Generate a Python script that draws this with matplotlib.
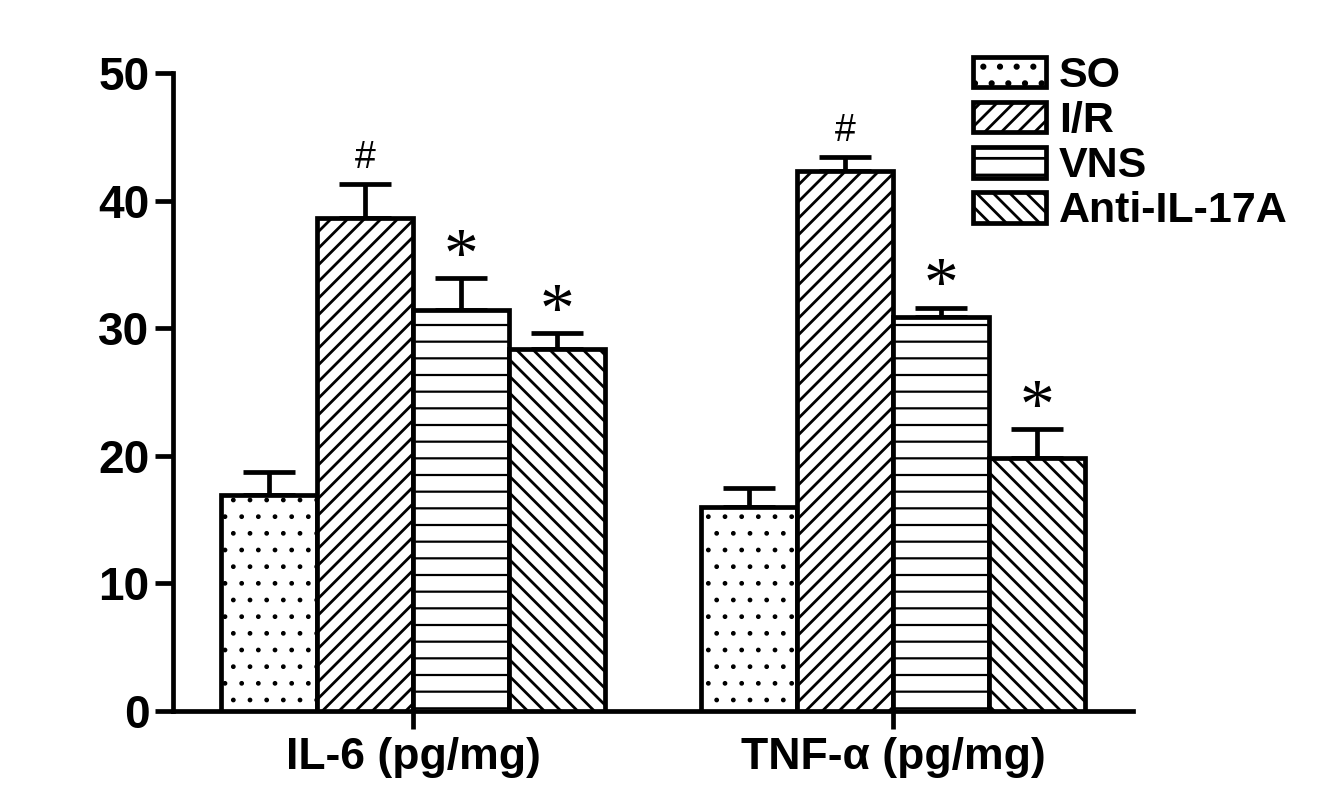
import matplotlib
matplotlib.use("Agg")
import matplotlib.pyplot as plt
import numpy as np

categories = ["IL-6 (pg/mg)", "TNF-\u03b1 (pg/mg)"]
groups = ["SO", "I/R", "VNS", "Anti-IL-17A"]
so_vals = [16.9, 16.0]
ir_vals = [38.6, 42.3]
vns_vals = [31.4, 30.85]
anti_vals = [28.4, 19.8]
so_err = [1.85, 1.5]
ir_err = [2.7, 1.1]
vns_err = [2.5, 0.75]
anti_err = [1.2, 2.3]
marks_ir = ["#", "#"]
marks_vns = ["*", "*"]
marks_anti = ["*", "*"]
y_ticks = [0, 10, 20, 30, 40, 50]

plt.rcParams['hatch.linewidth'] = 2.0
plt.rcParams['font.family'] = ['Liberation Sans', 'DejaVu Sans']

fig = plt.figure(figsize=(13.18, 8.07), dpi=100)
ax = fig.add_axes([173/1318, 1-711/807, (1133-173)/1318, (711-73)/807])

values = [so_vals, ir_vals, vns_vals, anti_vals]
errs = [so_err, ir_err, vns_err, anti_err]
marks = [None, marks_ir, marks_vns, marks_anti]
hatches = ['.', '//', '-', '\\\\']
hatch_lws = [1.0, 2.0, 1.6, 2.0]
centers = np.array([0.0, 5.0])
offsets = [-1.5, -0.5, 0.5, 1.5]
LW = 3.4

for i, (name, vals, er, h, mk) in enumerate(zip(groups, values, errs, hatches, marks)):
    x = centers + offsets[i]
    bars = ax.bar(x, vals, width=1.0, color='white', edgecolor='black', linewidth=LW,
                  hatch=h, label=name, zorder=3)
    for b in bars:
        if hasattr(b, 'set_hatch_linewidth'):
            b.set_hatch_linewidth(hatch_lws[i])
    ax.errorbar(x, vals, yerr=[np.zeros(len(vals)), er], fmt='none', ecolor='black',
                elinewidth=LW, capsize=19, capthick=LW, zorder=2)
    if mk is not None:
        for xi, v, e, m in zip(x, vals, er, mk):
            if m == '#':
                ax.annotate(m, (xi, v + e), xytext=(0, 6), textcoords='offset points',
                            ha='center', va='bottom', fontsize=27,
                            family=['Liberation Sans', 'DejaVu Sans'])
            else:
                ax.annotate(m, (xi, v + e), xytext=(0, -9), textcoords='offset points',
                            ha='center', va='bottom', fontsize=50,
                            family=['Liberation Serif', 'DejaVu Serif'])

ax.set_xlim(-2.5, 7.5)
ax.set_ylim(0, 50)
ax.set_yticks(y_ticks)
ax.set_xticks(centers)
ax.set_xticklabels(categories, fontsize=32, fontweight='bold')
ax.set_yticklabels([str(t) for t in y_ticks], fontsize=33, fontweight='bold')
for s in ['top', 'right']:
    ax.spines[s].set_visible(False)
for s in ['left', 'bottom']:
    ax.spines[s].set_linewidth(LW)
ax.tick_params(axis='both', direction='out', length=13, width=LW)
ax.tick_params(axis='y', pad=4)
ax.tick_params(axis='x', pad=6)

leg = fig.legend(loc='upper left', bbox_to_anchor=(973/1318, 1-56/807), frameon=False,
                 prop={'weight': 'bold', 'size': 31},
                 handlelength=1.7, handleheight=0.72, handletextpad=0.3,
                 labelspacing=0.12, borderpad=0, borderaxespad=0)

fig.savefig("out.png", dpi=100)
